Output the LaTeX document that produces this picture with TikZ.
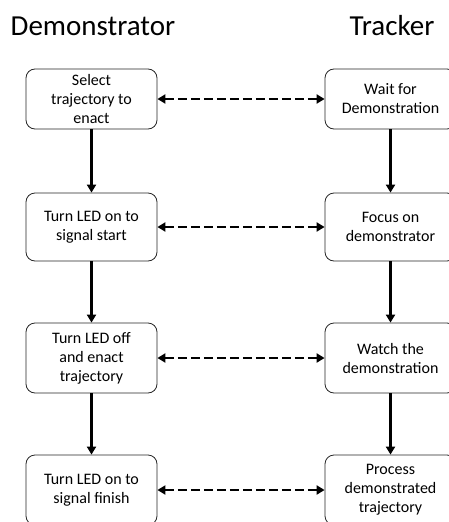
\documentclass[tikz,border=0pt]{standalone}
\usepackage{fontspec}
\setmainfont{Carlito}
\usetikzlibrary{arrows.meta}
\begin{document}
\begin{tikzpicture}[x=1pt,y=-1pt,
  box/.style={draw=black!85,line width=0.8pt,rounded corners=9pt,minimum width=131pt,align=center,font=\fontsize{16}{19}\selectfont,inner sep=2pt},
  flow/.style={line width=2.4pt,-{Triangle[length=8pt,width=9pt]}},
  sync/.style={line width=2.4pt,dash pattern=on 9pt off 4pt,{Triangle[length=8pt,width=9pt]}-{Triangle[length=8pt,width=9pt]}},
  title/.style={font=\fontsize{29}{34}\selectfont}]
\useasboundingbox (0,0) rectangle (448,522);
\node[title] (tD) at (93,26) {Demonstrator};
\node[title] (tT) at (392,26) {Tracker};
\node[box,minimum height=60pt] (d1) at (91.5,99) {Select\\trajectory to\\enact};
\node[box,minimum height=68pt] (d2) at (91.5,227) {Turn LED on to\\signal start};
\node[box,minimum height=70pt] (d3) at (91.5,358) {Turn LED off\\and enact\\trajectory};
\node[box,minimum height=70pt] (d4) at (91.5,490) {Turn LED on to\\signal finish};
\node[box,minimum height=60pt] (t1) at (390.5,99) {Wait for\\Demonstration};
\node[box,minimum height=68pt] (t2) at (390.5,227) {Focus on\\demonstrator};
\node[box,minimum height=70pt] (t3) at (390.5,358) {Watch the\\demonstration};
\node[box,minimum height=70pt] (t4) at (390.5,490) {Process\\demonstrated\\trajectory};
\draw[flow] (d1) -- (d2);
\draw[flow] (d2) -- (d3);
\draw[flow] (d3) -- (d4);
\draw[flow] (t1) -- (t2);
\draw[flow] (t2) -- (t3);
\draw[flow] (t3) -- (t4);
\draw[sync] (d1) -- (t1);
\draw[sync] (d2) -- (t2);
\draw[sync] (d3) -- (t3);
\draw[sync] (d4) -- (t4);
\end{tikzpicture}
\end{document}
